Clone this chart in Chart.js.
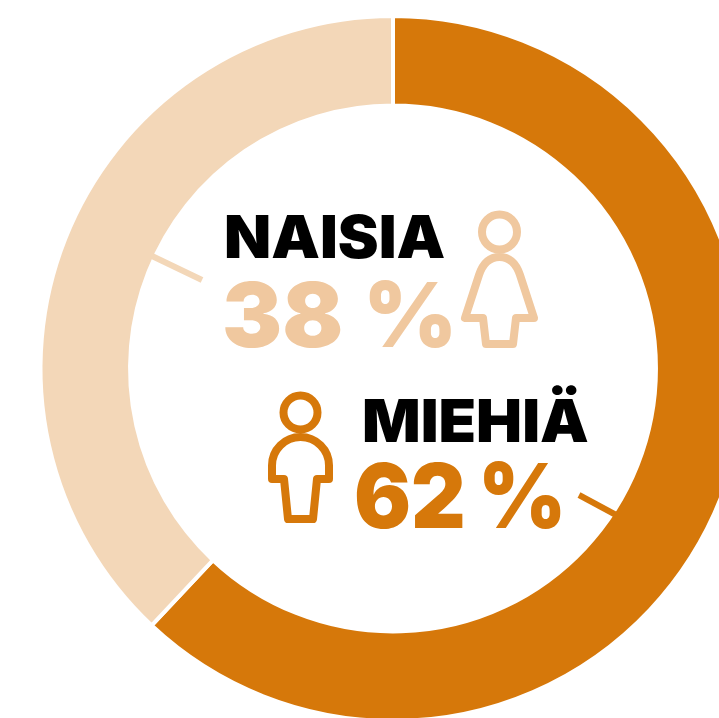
<!DOCTYPE html>
<html>
<head>
<meta charset="utf-8">
<style>
html,body{margin:0;padding:0;background:#fff;overflow:hidden}
#wrap{position:absolute;left:0;top:0;width:719px;height:718px;overflow:hidden}
#myChart{position:absolute;left:0;top:0}
.t{position:absolute;font-family:Inter,"Liberation Sans",sans-serif;font-weight:900;white-space:nowrap;line-height:1;transform-origin:left top}
</style>
<script src="https://cdn.jsdelivr.net/npm/chart.js@4"></script>
</head>
<body>
<div id="wrap">
<canvas id="myChart" width="786" height="737"></canvas>
<div class="t" style="left:224px;top:207px;font-size:59px;color:#000;transform:scaleX(1.04)">NAISIA</div>
<div class="t" style="left:222px;top:270px;font-size:90px;color:#f0c89f;word-spacing:2px">38 %</div>
<div class="t" style="left:362px;top:391px;font-size:59px;color:#000;transform:scaleX(1.04)">MIEHIÄ</div>
<div class="t" style="left:354px;top:451px;font-size:90px;color:#d6780a;transform:scaleX(0.94);word-spacing:-5px">62 %</div>
</div>
<script>
// setup
const labels = ["Miehiä", "Naisia"];
const values = [62, 38];
const colors = ["#d6780a", "#f3d7b8"];

// small ticks and the two person icons, drawn after the ring
const extras = {
  id: "extras",
  afterDraw(chart) {
    const c = chart.ctx;
    c.save();
    c.lineWidth = 6;
    c.lineCap = "butt";
    c.lineJoin = "round";
    // ticks
    c.strokeStyle = "#f3d7b8";
    c.beginPath(); c.moveTo(152, 256); c.lineTo(202, 280); c.stroke();
    c.strokeStyle = "#d6780a";
    c.beginPath(); c.moveTo(579, 495); c.lineTo(618, 516); c.stroke();
    // woman
    c.lineWidth = 8;
    c.strokeStyle = "#f0c89f";
    c.beginPath(); c.arc(499.5, 232, 17.5, 0, Math.PI * 2); c.stroke();
    c.beginPath();
    c.moveTo(486, 344); c.lineTo(513, 344); c.lineTo(516, 318); c.lineTo(534, 318);
    c.lineTo(520, 275); c.quadraticCurveTo(514, 257, 499.5, 257);
    c.quadraticCurveTo(485, 257, 479, 275); c.lineTo(465, 318); c.lineTo(483, 318);
    c.closePath(); c.stroke();
    // man
    c.strokeStyle = "#d6780a";
    c.beginPath(); c.arc(300.5, 412.5, 17, 0, Math.PI * 2); c.stroke();
    c.beginPath();
    c.moveTo(288, 519); c.lineTo(313, 519); c.lineTo(317, 479); c.lineTo(329, 479);
    c.lineTo(329, 465.5); c.arc(300.5, 465.5, 28.5, 0, Math.PI, true);
    c.lineTo(272, 479); c.lineTo(284, 479);
    c.closePath(); c.stroke();
    c.restore();
  },
};

const config = {
  type: "doughnut",
  data: {
    labels: labels,
    datasets: [{
      data: values,
      backgroundColor: colors,
      borderColor: "#fff",
      borderWidth: 4,
    }],
  },
  options: {
    responsive: false,
    animation: false,
    cutout: "74.6%",
    layout: { padding: { top: 14, bottom: 14 } },
    plugins: { legend: { display: false }, tooltip: { enabled: false } },
  },
  plugins: [extras],
};

// render init block
const myChart = new Chart(document.getElementById("myChart"), config);
</script>
</body>
</html>
